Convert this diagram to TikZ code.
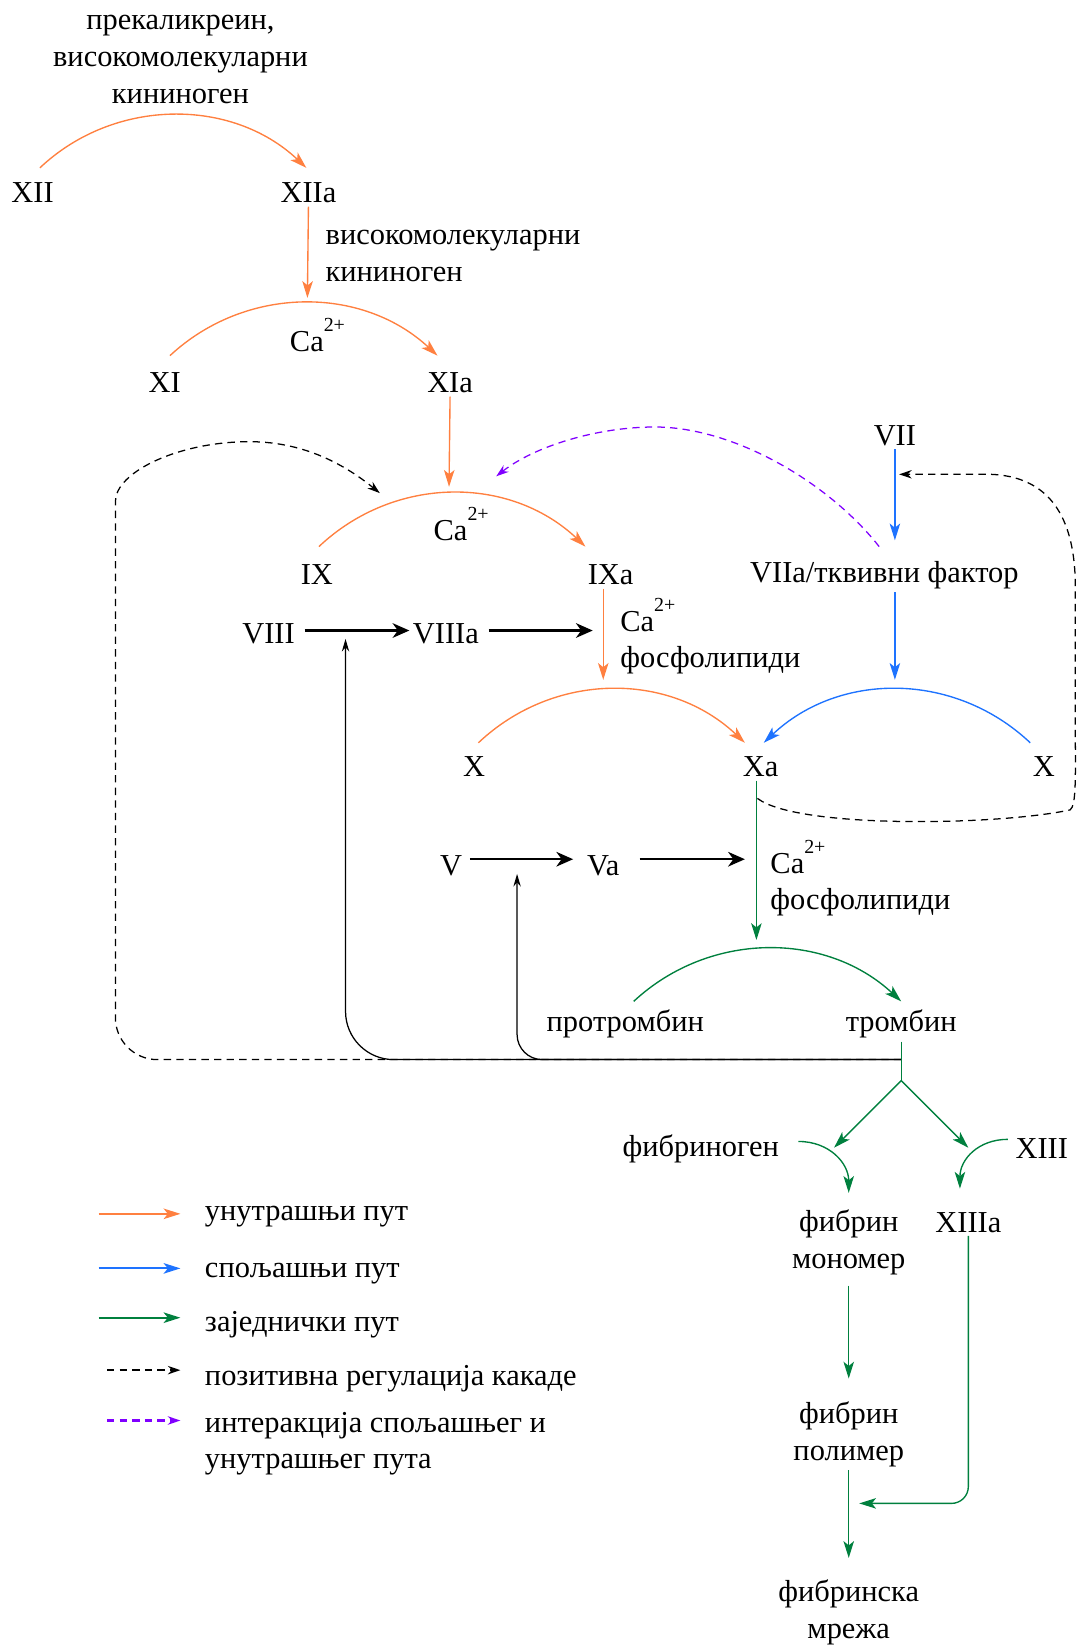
\documentclass[tikz,border=0pt]{standalone}
\usepackage{fontspec}
\setmainfont{Liberation Serif}
\usetikzlibrary{arrows.meta,positioning}
\definecolor{intrinsic}{RGB}{255,128,64}
\definecolor{extrinsic}{RGB}{30,115,255}
\definecolor{common}{RGB}{0,128,62}
\definecolor{crosstalk}{RGB}{128,0,255}
\newcommand{\caion}{Ca\raisebox{9.5pt}{\fontsize{9.5}{10}\selectfont 2+}}

\begin{document}
\begin{tikzpicture}[
    x=0.5pt, y=-0.5pt,
    font=\fontsize{14.5}{17.5}\selectfont,
    factor/.style={inner sep=1.5pt},
    txt/.style={inner sep=1.5pt, align=center},
    ion/.style={inner sep=0pt, anchor=base west},
    intr/.style={draw=intrinsic, line width=0.65pt, ->, >={Stealth[length=8pt,width=5pt,inset=2pt]}},
    extr/.style={intr, draw=extrinsic},
    comm/.style={intr, draw=common},
    conv/.style={draw, line width=1pt, ->, >={Stealth[length=8pt,width=7pt,inset=2.5pt]}},
    fback/.style={draw, line width=0.6pt, ->, >={Stealth[length=6pt,width=3.5pt]}},
    posreg/.style={draw, line width=0.6pt, dash pattern=on 3.5pt off 2.5pt, ->, >={Stealth[length=6pt,width=4pt]}},
    cross/.style={posreg, draw=crosstalk},
    legline/.style={line width=1pt}
]
    \useasboundingbox (0,0) rectangle (1027,1568);

    % Intrinsic pathway
    \node [txt] (kin1) at (172,56.5) {прекаликреин,\\високомолекуларни\\кининоген};
    \node [factor] (xii) at (31,184) {XII};
    \node [factor] (xiia) at (294,184) {XIIa};
    \node [txt, align=left, anchor=west, inner sep=0pt] (kin2) at (310,244) {високомолекуларни\\кининоген};
    \node [ion] (ca1) at (276,335) {\caion};
    \node [factor] (xi) at (157,365) {XI};
    \node [factor] (xia) at (429,365) {XIa};
    \node [ion] (ca2) at (413,515) {\caion};
    \node [factor] (ix) at (302,548) {IX};
    \node [factor] (ixa) at (582,548) {IXa};
    \node [factor] (viii) at (256,604) {VIII};
    \node [factor] (viiia) at (425,604) {VIIIa};
    \node [ion] (ca3) at (591,602) {\caion};
    \node [ion, below=17pt of ca3.base west, anchor=base west] (phos1) {фосфолипиди};

    % Extrinsic pathway
    \node [factor] (vii) at (853,415) {VII};
    \node [factor] (viia) at (843,548) {VIIa/тквивни фактор};

    % Common pathway
    \node [factor] (x1) at (452,731) {X};
    \node [factor] (xa) at (725,731) {Xa};
    \node [factor] (x2) at (995,731) {X};
    \node [factor] (v) at (430,825) {V};
    \node [factor] (va) at (575,825) {Va};
    \node [ion] (ca4) at (734,833) {\caion};
    \node [ion, below=17pt of ca4.base west, anchor=base west] (phos2) {фосфолипиди};
    \node [factor] (protr) at (596,976) {протромбин};
    \node [factor] (thr) at (859,976) {тромбин};
    \node [factor] (fbg) at (668,1095) {фибриноген};
    \node [factor] (xiii) at (993,1095) {XIII};
    \node [txt] (mono) at (809,1184) {фибрин\\мономер};
    \node [factor] (xiiia) at (923,1165) {XIIIa};
    \node [txt] (poly) at (809,1367) {фибрин\\полимер};
    \node [txt] (net) at (809,1537) {фибринска\\мрежа};

    % Legend
    \node [txt, align=left, anchor=west, inner sep=0pt] (leg1) at (195,1160) {унутрашњи пут};
    \node [txt, align=left, anchor=west, inner sep=0pt] (leg2) at (195,1214) {спољашњи пут};
    \node [txt, align=left, anchor=west, inner sep=0pt] (leg3) at (195,1263) {заједнички пут};
    \node [txt, align=left, anchor=west, inner sep=0pt] (leg4) at (195,1314) {позитивна регулација какаде};
    \node [txt, align=left, anchor=west, inner sep=0pt] (leg5) at (195,1376) {интеракција спољашњег и\\унутрашњег пута};

    % Arrow ends
    \coordinate (t1) at (293,284);
    \coordinate (t2) at (428,464);
    \coordinate (t3) at (575,648);
    \coordinate (t4) at (853,515);
    \coordinate (t5) at (853,648);
    \coordinate (t6) at (721,896);
    \coordinate (t7) at (565,601);
    \coordinate (t8) at (710,819);
    \coordinate (split) at (859,1010);
    \coordinate (fork) at (859,1030);
    \coordinate (bl) at (795,1094);
    \coordinate (br) at (923,1094);
    \coordinate (fm) at (809,1137);
    \coordinate (xt) at (915,1133);
    \coordinate (pt) at (809,1314);
    \coordinate (nt) at (809,1485);
    \coordinate (xt2) at (819,1433);

    % Feedback loops
    \draw [posreg] (split) [rounded corners=20pt] -| (110,518) [sharp corners]
        .. controls (110,450) and (170,421) .. (238,421)
        .. controls (295,421) and (335,448) .. ([shift={(-51,-45)}]ca2.base west);
    \draw [posreg] ([shift={(-3,17)}]xa.south) .. controls (760,790) and (950,787) .. (1020,772)
        .. controls (1026,768) and (1025,740) .. (1025,700) -- (1025,560)
        .. controls (1025,480) and (990,452) .. (939,452) -- ([shift={(4,24)}]vii.south);
    \draw [cross] ([shift={(-5,-27)}]viia.center) .. controls (790,460) and (700,407) .. (624,407)
        .. controls (570,407) and (510,425) .. ([shift={(60,-61)}]ca2.base west);
    \draw [fback] (split) [rounded corners=23pt] -| ([shift={(45,5)}]viii.east);
    \draw [fback] (split) [rounded corners=12pt] -| ([shift={(49,8)}]v.east);

    % Intrinsic arrows
    \draw [intr] ([shift={(7,-24)}]xii.center) .. controls +(71,-67) and +(-71,-67) .. ([shift={(-2,-24)}]xiia.center);
    \draw [intr] (xiia.south) -- (t1);
    \draw [intr] ([shift={(5,-26)}]xi.center) .. controls +(72,-67) and +(-72,-67) .. ([shift={(-12,-26)}]xia.center);
    \draw [intr] (xia.south) -- (t2);
    \draw [intr] ([shift={(2,-27)}]ix.center) .. controls +(72,-68) and +(-72,-68) .. ([shift={(-24,-27)}]ixa.center);
    \draw [intr] (t3 |- ixa.south) -- (t3);
    \draw [intr] ([shift={(4,-23)}]x1.center) .. controls +(72,-68) and +(-72,-68) .. ([shift={(-15,-23)}]xa.center);
    \draw [conv, shorten <=3pt] ([yshift=1.5pt]viii.east) -- ([yshift=1.5pt]viiia.west);
    \draw [conv, shorten <=3pt] ([yshift=1.5pt]viiia.east) -- (t7);

    % Extrinsic arrows
    \draw [extr] (vii.south) -- (t4);
    \draw [extr] (t5 |- viia.south) -- (t5);
    \draw [extr] ([shift={(-13,-23)}]x2.center) .. controls +(-72,-68) and +(72,-68) .. ([shift={(3,-23)}]xa.center);

    % Common arrows
    \draw [comm] (t6 |- xa.south) -- (t6);
    \draw [conv, shorten <=2pt, shorten >=5pt] ([yshift=3pt]v.east) -- ([yshift=3pt]va.west);
    \draw [conv, shorten <=8pt] ([yshift=3pt]va.east) -- (t8);
    \draw [comm] ([shift={(8,-21.5)}]protr.center) .. controls +(72,-67) and +(-72,-67) .. ([shift={(0,-21.5)}]thr.center);
    \draw [comm, -] (thr.south) -- (fork);
    \draw [comm] (fork) -- (bl);
    \draw [comm] (fork) -- (br);
    \draw [comm] ([shift={(15,-7)}]fbg.east) .. controls +(30,0) and +(0,-28) .. (fm);
    \draw [comm] ([shift={(-4,-9)}]xiii.west) .. controls +(-28,0) and +(0,-28) .. (xt);
    \draw [comm, shorten <=3.5pt] (mono.south) -- (pt);
    \draw [comm] (poly.south) -- (nt);
    \draw [comm, rounded corners=8pt] (xiiia.south) |- (xt2);

    % Legend arrows
    \draw [intr, legline] ([shift={(-101,-3)}]leg1.west) -- ([shift={(-23,-3)}]leg1.west);
    \draw [extr, legline] ([shift={(-101,-5)}]leg2.west) -- ([shift={(-23,-5)}]leg2.west);
    \draw [comm, legline] ([shift={(-101,-7)}]leg3.west) -- ([shift={(-23,-7)}]leg3.west);
    \draw [posreg, legline] ([shift={(-93,-8)}]leg4.west) -- ([shift={(-23,-8)}]leg4.west);
    \draw [cross, legline] ([shift={(-93,-22)}]leg5.west) -- ([shift={(-23,-22)}]leg5.west);
\end{tikzpicture}
\end{document}
